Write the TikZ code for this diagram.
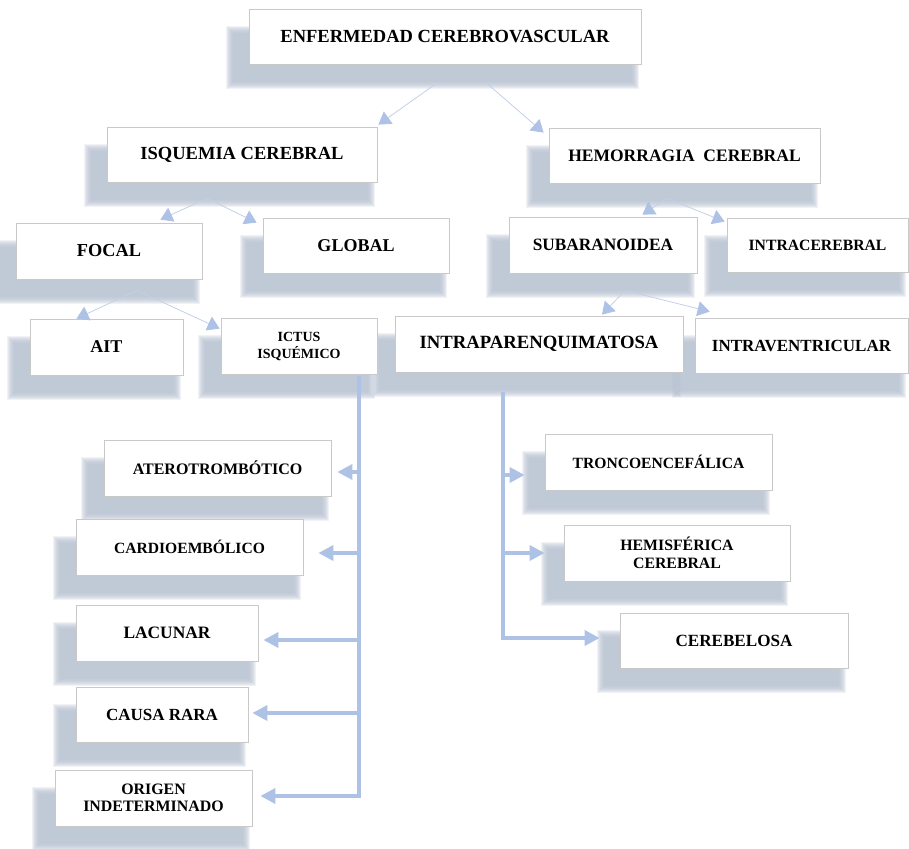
\documentclass[tikz,border=0pt]{standalone}
\usepackage{fontspec}
\setmainfont{Liberation Serif}
\usetikzlibrary{arrows.meta, backgrounds}
\definecolor{sombrac}{HTML}{B3BECE}
\definecolor{linea}{HTML}{C2D0EA}
\definecolor{punta}{HTML}{AEC2E6}
\definecolor{borde}{HTML}{C9C9C9}
\tikzset{
  caja/.style={draw=borde, line width=0.8pt, fill=white, inner sep=0pt, align=center},
  sz/.style 2 args={font=\bfseries\fontsize{#1}{#2}\selectfont},
  sombra/.style={fill=sombrac, opacity=0.2},
  rama/.style={draw=linea, line width=0.8pt, -{Triangle[length=12pt,width=15pt,color=punta]}},
  eje/.style={draw=punta, line width=3.5pt, -{Triangle[length=15pt,width=15pt]}},
}
\begin{document}
\begin{tikzpicture}[x=1pt,y=-1pt]
  % clasificacion de la enfermedad cerebrovascular
  \useasboundingbox (0,0) rectangle (909,848);
  \node[caja, sz={18.5}{21}, minimum width=392, minimum height=55] (ecv) at (445,36.5) {ENFERMEDAD CEREBROVASCULAR};
  \node[caja, sz={18.5}{21}, minimum width=270, minimum height=55] (isq) at (242,154.5) {ISQUEMIA CEREBRAL};
  \node[caja, sz={17.5}{20}, minimum width=271, minimum height=55] (hem) at (684.5,155.5) {HEMORRAGIA\ \ CEREBRAL};
  \node[caja, sz={18.3}{21}, minimum width=186, minimum height=56] (focal) at (109,251) {FOCAL};
  \node[caja, sz={18}{21}, minimum width=186, minimum height=55] (global) at (356,245.5) {GLOBAL};
  \node[caja, sz={17.3}{20}, minimum width=188, minimum height=56] (subar) at (603,245) {SUBARANOIDEA};
  \node[caja, sz={15.7}{18}, minimum width=181, minimum height=54] (intrac) at (817.5,245) {INTRACEREBRAL};
  \node[caja, sz={18}{21}, minimum width=153, minimum height=56] (ait) at (106.5,347) {AIT};
  \node[caja, sz={14}{17}, minimum width=156, minimum height=56] (ictus) at (299,346) {ICTUS\\ISQUÉMICO};
  \node[caja, sz={18.7}{21}, minimum width=288, minimum height=56] (intrap) at (539,344) {INTRAPARENQUIMATOSA};
  \node[caja, sz={17}{20}, minimum width=213, minimum height=55] (intrav) at (801.5,345.5) {INTRAVENTRICULAR};
  \node[caja, sz={16}{19}, minimum width=227, minimum height=56] (atero) at (217.5,468) {ATEROTROMBÓTICO};
  \node[caja, sz={15.6}{18}, minimum width=227, minimum height=56] (cardio) at (189.5,547) {CARDIOEMBÓLICO};
  \node[caja, sz={17.4}{20}, minimum width=182, minimum height=56] (lacunar) at (167,633) {LACUNAR};
  \node[caja, sz={17}{20}, minimum width=172, minimum height=55] (causa) at (162,714.5) {CAUSA RARA};
  \node[caja, sz={15.9}{17}, minimum width=197, minimum height=56] (origen) at (153.5,798) {ORIGEN\\INDETERMINADO};
  \node[caja, sz={15.6}{18}, minimum width=227, minimum height=56] (tronco) at (658.5,462) {TRONCOENCEFÁLICA};
  \node[caja, sz={15.8}{18}, minimum width=226, minimum height=56] (hemis) at (677,553) {HEMISFÉRICA\\CEREBRAL};
  \node[caja, sz={17.1}{20}, minimum width=228, minimum height=55] (cereb) at (734,640.5) {CEREBELOSA};

  \begin{pgfonlayer}{background}
    \foreach \n in {ecv,isq,hem,focal,global,subar,intrac,ait,ictus,intrap,intrav,atero,cardio,lacunar,causa,origen,tronco,hemis,cereb}{
      \foreach \k in {0,...,7}
        \fill[sombra] ([shift={(-23+\k,17+\k)}]\n.north west) rectangle ([shift={(-2-\k,25-\k)}]\n.south east);
    }
  \end{pgfonlayer}

  \coordinate (vi) at ([shift={(-35,16)}]isq.south);
  \coordinate (vh) at ([shift={(-17.5,15)}]hem.south);
  \coordinate (vf) at ([shift={(28,11)}]focal.south);
  \coordinate (vs) at ([shift={(22,17)}]subar.south);
  \coordinate (ti) at ([shift={(60,2)}]ictus.south);
  \coordinate (tp) at ([shift={(-36,20)}]intrap.south);

  \draw[rama] ([shift={(-10,20)}]ecv.south) -- ([shift={(1,-2)}]isq.north east);
  \draw[rama] ([shift={(43,20)}]ecv.south) -- ([shift={(-5,5)}]hem.north west);
  \draw[rama] (vi) -- ([shift={(-42,-3)}]focal.north east);
  \draw[rama] (vi) -- ([shift={(-6,5)}]global.north west);
  \draw[rama] (vh) -- ([shift={(-55,-2)}]subar.north east);
  \draw[rama] (vh) -- ([shift={(-2,4)}]intrac.north west);
  \draw[rama] (vf) -- ([shift={(-30,0)}]ait.north);
  \draw[rama] (vf) -- ([shift={(-1,11)}]ictus.north west);
  \draw[rama] (vs) -- ([shift={(63,-1)}]intrap.north);
  \draw[rama] (vs) -- ([shift={(15,-6)}]intrav.north west);

  \foreach \n/\dx/\dy in {atero/6/4, cardio/15/6, lacunar/5/7, causa/4/-1.5, origen/8/-2}
    \draw[eje] (ti) |- ([shift={(\dx,\dy)}]\n.east);
  \foreach \n/\dx/\dy in {tronco/-20/13, hemis/-19/0, cereb/-20/-2.5}
    \draw[eje] (tp) |- ([shift={(\dx,\dy)}]\n.west);
\end{tikzpicture}
\end{document}
